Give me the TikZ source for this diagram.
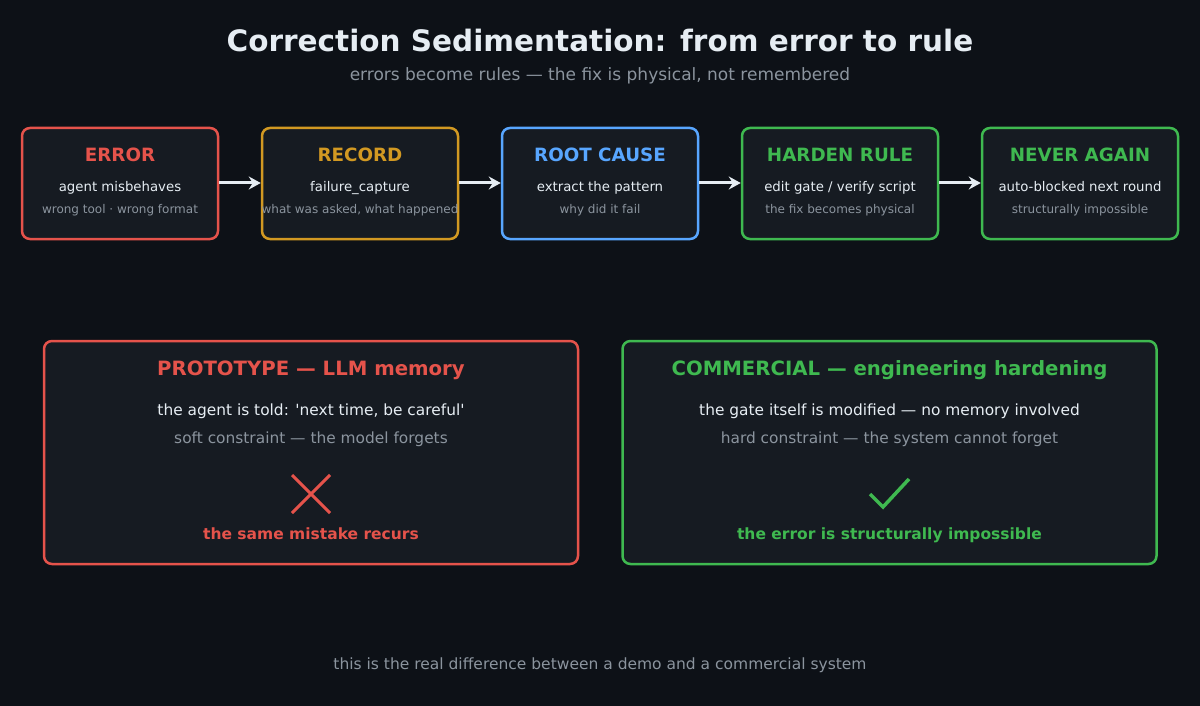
\documentclass[tikz,border=0pt]{standalone}
\usepackage{fontspec}
\setmainfont{DejaVu Sans}
\usetikzlibrary{arrows.meta}
\definecolor{bg}{HTML}{0D1117}
\definecolor{boxfill}{HTML}{161B22}
\definecolor{cred}{HTML}{E5534B}
\definecolor{corange}{HTML}{D29922}
\definecolor{cblue}{HTML}{58A6FF}
\definecolor{cgreen}{HTML}{3FB950}
\definecolor{ctext}{HTML}{E6EDF3}
\definecolor{cgrey}{HTML}{8B949E}
\newcommand{\fs}[1]{\fontsize{#1}{#1}\selectfont}
\tikzset{
  stagebox/.style={draw=#1, fill=boxfill, line width=2.5pt, rounded corners=8pt, minimum width=196pt, minimum height=111pt, inner sep=0pt},
  bigbox/.style={draw=#1, fill=boxfill, line width=2.5pt, rounded corners=8pt, minimum width=534pt, minimum height=223pt, inner sep=0pt},
  stitle/.style={text=#1, font=\fs{18.3}\bfseries, inner sep=0pt},
  sline/.style={text=ctext, font=\fs{13.3}, inner sep=0pt, anchor=base},
  sgrey/.style={text=cgrey, font=\fs{12}, inner sep=0pt},
  flow/.style={draw=ctext, line width=3pt, -{Stealth[length=12pt,width=13pt,inset=4pt]}},
}
\begin{document}
\begin{tikzpicture}[x=1pt,y=-1pt]
\fill[bg] (0,0) rectangle (1200,706);
\useasboundingbox (0,0) rectangle (1200,706);
\node[text=ctext, font=\fs{29.5}\bfseries, inner sep=0pt] (title) at (600,40.5) {Correction Sedimentation: from error to rule};
\node[text=cgrey, font=\fs{17}, inner sep=0pt] (subtitle) at (600,75.5) {errors become rules — the fix is physical, not remembered};

% stage boxes
\node[stagebox=cred] (b1) at (120,183.5) {};
\node[stagebox=corange] (b2) at (360,183.5) {};
\node[stagebox=cblue] (b3) at (600,183.5) {};
\node[stagebox=cgreen] (b4) at (840,183.5) {};
\node[stagebox=cgreen] (b5) at (1080,183.5) {};

\node[stitle=cred] (t1) at (120,155) {ERROR};
\node[sline] (l1) at (120,191) {agent misbehaves};
\node[sgrey] (g1) at (120,210) {wrong tool · wrong format};

\node[stitle=corange] (t2) at (360,155) {RECORD};
\node[sline] (l2) at (360,191) {failure\_capture};
\node[sgrey] (g2) at (360,210) {what was asked, what happened};

\node[stitle=cblue] (t3) at (600,155) {ROOT CAUSE};
\node[sline] (l3) at (600,191) {extract the pattern};
\node[sgrey] (g3) at (600,210) {why did it fail};

\node[stitle=cgreen] (t4) at (840,155) {HARDEN RULE};
\node[sline] (l4) at (840,191) {edit gate / verify script};
\node[sgrey] (g4) at (840,210) {the fix becomes physical};

\node[stitle=cgreen] (t5) at (1080,155) {NEVER AGAIN};
\node[sline] (l5) at (1080,191) {auto-blocked next round};
\node[sgrey] (g5) at (1080,210) {structurally impossible};

\draw[flow] (b1.east |- 0,183) -- (b2.west |- 0,183);
\draw[flow] (b2.east |- 0,183) -- (b3.west |- 0,183);
\draw[flow] (b3.east |- 0,183) -- (b4.west |- 0,183);
\draw[flow] (b4.east |- 0,183) -- (b5.west |- 0,183);

% bottom boxes
\node[bigbox=cred] (p) at (311,452.5) {};
\node[text=cred, font=\fs{19.7}\bfseries, inner sep=0pt] (pt) at (311,370.5) {PROTOTYPE — LLM memory};
\node[text=ctext, font=\fs{15.4}, inner sep=0pt] (pl) at (311,411.5) {the agent is told: \textquotesingle next time, be careful\textquotesingle};
\node[text=cgrey, font=\fs{15.4}, inner sep=0pt] (pg) at (311,439.5) {soft constraint — the model forgets};
\coordinate (x1) at (292,475);
\coordinate (x2) at (330,513);
\coordinate (x3) at (330,475);
\coordinate (x4) at (292,513);
\draw[cred, line width=3pt] (x1) -- (x2) (x3) -- (x4);
\node[text=cred, font=\fs{15.5}\bfseries, inner sep=0pt, anchor=base] (pr) at (311,539) {the same mistake recurs};

\node[bigbox=cgreen] (c) at (889.5,452.5) {};
\node[text=cgreen, font=\fs{19.7}\bfseries, inner sep=0pt] (ct) at (889.5,370.5) {COMMERCIAL — engineering hardening};
\node[text=ctext, font=\fs{15.4}, inner sep=0pt] (cl) at (889.5,411.5) {the gate itself is modified — no memory involved};
\node[text=cgrey, font=\fs{15.4}, inner sep=0pt] (cg) at (889.5,439.5) {hard constraint — the system cannot forget};
\coordinate (k1) at (870,494);
\coordinate (k2) at (883,507);
\coordinate (k3) at (909,479);
\draw[cgreen, line width=3.5pt] (k1) -- (k2) -- (k3);
\node[text=cgreen, font=\fs{15.5}\bfseries, inner sep=0pt, anchor=base] (cr) at (889.5,539) {the error is structurally impossible};

\node[text=cgrey, font=\fs{15.5}, inner sep=0pt] (foot) at (600,665.5) {this is the real difference between a demo and a commercial system};
\end{tikzpicture}
\end{document}
